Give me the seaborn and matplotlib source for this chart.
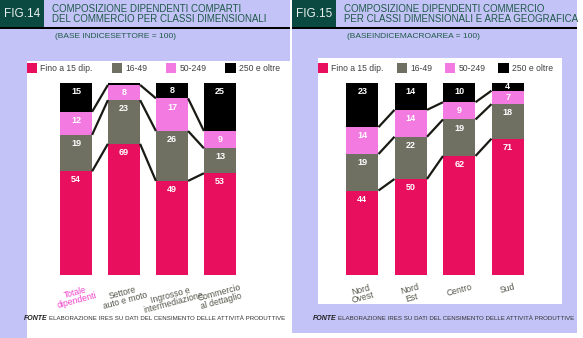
import numpy as np
import pandas as pd
import matplotlib
matplotlib.use("Agg")
import matplotlib.pyplot as plt
from matplotlib.patches import Rectangle, Patch
import seaborn as sns

sns.set_theme(style="white")
plt.rcParams['font.family'] = ['Liberation Sans', 'DejaVu Sans']

# ---------------- data ----------------
classes = ["Fino a 15 dip.", "16-49", "50-249", "250 e oltre"]
colors = ["#e8105e", "#6f6f62", "#f27ae0", "#000000"]

cats14 = ["Totale\ndipendenti", "Settore\nauto e moto", "Ingrosso e\nintermediazione", "Commercio\nal dettaglio"]
f14_fino15 = [54, 69, 49, 53]
f14_16_49 = [19, 23, 26, 13]
f14_50_249 = [12, 8, 17, 9]
f14_250 = [15, 1, 8, 25]

cats15 = ["Nord\nOvest", "Nord\nEst", "Centro", "Sud"]
f15_fino15 = [44, 50, 62, 71]
f15_16_49 = [19, 22, 19, 18]
f15_50_249 = [14, 14, 9, 7]
f15_250 = [23, 14, 10, 4]

W, H = 583, 338
LAV = "#c3c3f7"
GREEN = "#1f5a48"
BOX = "#0b4a40"
TXT = "#55554a"

fig = plt.figure(figsize=(W / 100, H / 100), dpi=100)
fig.patch.set_facecolor("white")


def px(x, y):
    return x / W, 1 - y / H


def rect(x0, y0, x1, y1, color, z=-10):
    fig.patches.append(Rectangle(px(x0, y1), (x1 - x0) / W, (y1 - y0) / H,
                                 transform=fig.transFigure, color=color, zorder=z, lw=0))


def ftext(x, y, s, **kw):
    fig.text(*px(x, y), s, **kw)


# backgrounds
rect(0, 0, 290, 61, LAV, -12)
rect(0, 61, 27, 338, LAV, -12)
rect(292, 0, 577, 333, LAV, -12)
rect(318, 58, 562, 304, "white", -11)

# headers
for (x0, x1, fig_lbl, t1, t2, sub) in [
    (0, 290, "FIG.14", "COMPOSIZIONE DIPENDENTI COMPARTI", "DEL COMMERCIO PER CLASSI DIMENSIONALI",
     "(BASE INDICESETTORE = 100)"),
    (292, 577, "FIG.15", "COMPOSIZIONE DIPENDENTI COMMERCIO", "PER CLASSI DIMENSIONALI E AREA GEOGRAFICA",
     "(BASEINDICEMACROAREA = 100)")]:
    rect(x0, 0, x0 + 44, 27, BOX, -9)
    rect(x0, 27, x1, 29, "black", -9)
    ftext(x0 + 4, 14, fig_lbl, color="#e8f0f0", fontsize=8.5, va="center", ha="left")
    ftext(x0 + 52, 9, t1, color=GREEN, fontsize=7, va="center", ha="left")
    ftext(x0 + 52, 18.5, t2, color=GREEN, fontsize=7, va="center", ha="left")
    ftext(x0 + 55, 36, sub, color=GREEN, fontsize=6, va="center", ha="left")

# footers
for x0 in (24, 313):
    ftext(x0, 318, "FONTE", color="#202020", fontsize=5, style="italic", weight="bold", va="center")
    ftext(x0 + 25, 318, "ELABORAZIONE IRES SU DATI DEL CENSIMENTO DELLE ATTIVITÀ PRODUTTIVE",
          color="#303030", fontsize=4.4, va="center")


def panel(ax, cats, series, label_colors, rot, legend_x, colsp):
    df = pd.DataFrame({"cat": cats})
    vals = np.array(series, dtype=float)
    tot = vals.sum(axis=0)
    pct = vals / tot * 100
    cum = np.cumsum(pct, axis=0)
    width = 0.67
    # draw from the top stack down so each lower stack overlays
    for k in range(3, -1, -1):
        df["v"] = cum[k]
        sns.barplot(data=df, x="cat", y="v", color=colors[k], width=width,
                    ax=ax, saturation=1, linewidth=0, zorder=2)
    # connecting lines
    for k in range(3):
        for i in range(len(cats) - 1):
            ax.plot([i + width / 2, i + 1 - width / 2], [cum[k][i], cum[k][i + 1]],
                    color="#1a1a14", lw=1.6, zorder=3, solid_capstyle="butt")
    # value labels
    for k in range(4):
        for i in range(len(cats)):
            v = vals[k][i]
            if v < 3:
                continue
            top = cum[k][i]
            h = pct[k][i]
            y = top - min(h / 2, 4.5)
            ax.text(i, y, f"{int(v)}", color="white", fontsize=6.5, ha="center",
                    va="center", weight="bold", zorder=4)
    ax.set_xlim(-0.5, len(cats) - 0.5)
    ax.set_ylim(0, 100)
    ax.axis("off")
    ax.set_facecolor("none")
    # category labels
    for i, c in enumerate(cats):
        ax.text(i, -4, c, rotation=rot, ha="center", va="top", fontsize=6.2,
                color=label_colors[i], transform=ax.transData, linespacing=0.9,
                clip_on=False)
    # legend
    handles = [Patch(facecolor=colors[k], edgecolor="none", label=classes[k]) for k in range(4)]
    fig.legend(handles=handles, loc="center left", bbox_to_anchor=px(legend_x, 68),
               ncol=4, frameon=False, fontsize=6.2, handlelength=1.2, handleheight=1.4,
               handletextpad=0.35, columnspacing=colsp, borderpad=0, borderaxespad=0,
               labelcolor="#404040")


ax1 = fig.add_axes([52 / W, (H - 275) / H, 192 / W, 192 / H])
panel(ax1, cats14, [f14_fino15, f14_16_49, f14_50_249, f14_250],
      ["#f040c8", TXT, TXT, TXT], 15, 27, 2.2)

ax2 = fig.add_axes([338 / W, (H - 275) / H, 194 / W, 192 / H])
panel(ax2, cats15, [f15_fino15, f15_16_49, f15_50_249, f15_250],
      [TXT] * 4, 15, 318, 1.5)

fig.savefig("out.png", dpi=100, facecolor="white")
